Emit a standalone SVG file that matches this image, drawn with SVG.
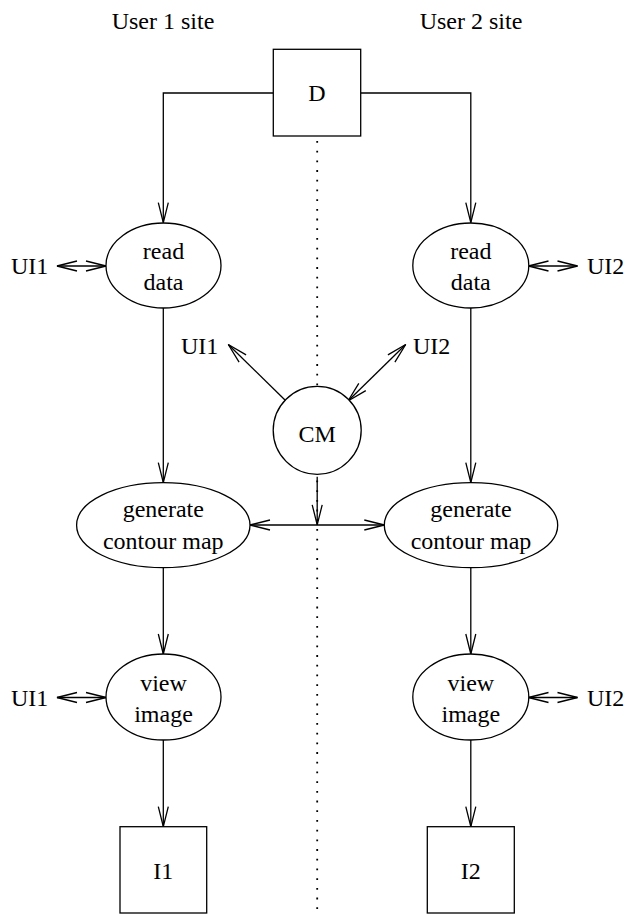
<svg xmlns="http://www.w3.org/2000/svg" width="626" height="914" viewBox="0 0 626 914">
<style>
text{font-family:"Liberation Serif","Times New Roman",serif;font-size:24px;fill:#000}
.c{text-anchor:middle}
.shape{fill:#fff;stroke:#000;stroke-width:1.3}
.ln{fill:none;stroke:#000;stroke-width:1.3}
.dot{fill:none;stroke:#000;stroke-width:1.8;stroke-dasharray:1.8 7.9}
</style>
<defs>
<marker id="ah" markerUnits="userSpaceOnUse" markerWidth="24" markerHeight="14" refX="21" refY="7" orient="auto-start-reverse" viewBox="0 0 24 14">
<path d="M1,2 L21,7 L1,12" fill="none" stroke="#000" stroke-width="1.3"/>
</marker>
</defs>
<rect width="626" height="914" fill="#fff"/>
<text class="c" x="163" y="29">User 1 site</text>
<text class="c" x="471" y="29">User 2 site</text>
<line class="dot" x1="317.2" y1="141" x2="317.2" y2="914"/>
<g id="connectors">
<polyline class="ln" points="273.3,93 163.3,93 163.3,222.7" marker-end="url(#ah)"/>
<polyline class="ln" points="360.7,93 470.8,93 470.8,222.7" marker-end="url(#ah)"/>
<line class="ln" x1="57" y1="266" x2="106" y2="266" marker-start="url(#ah)" marker-end="url(#ah)"/>
<line class="ln" x1="528.5" y1="266" x2="577.5" y2="266" marker-start="url(#ah)" marker-end="url(#ah)"/>
<line class="ln" x1="163.3" y1="308" x2="163.3" y2="482.7" marker-end="url(#ah)"/>
<line class="ln" x1="470.8" y1="308" x2="470.8" y2="482.7" marker-end="url(#ah)"/>
<line class="ln" x1="286" y1="401" x2="228.3" y2="344.5" marker-end="url(#ah)"/>
<line class="ln" x1="348" y1="401" x2="405.7" y2="344.5" marker-start="url(#ah)" marker-end="url(#ah)"/>
<line class="ln" x1="317.2" y1="476.7" x2="317.2" y2="524.8" marker-end="url(#ah)"/>
<line class="ln" x1="250" y1="525" x2="384.3" y2="525" marker-start="url(#ah)" marker-end="url(#ah)"/>
<line class="ln" x1="163.3" y1="567.7" x2="163.3" y2="654" marker-end="url(#ah)"/>
<line class="ln" x1="470.8" y1="567.7" x2="470.8" y2="654" marker-end="url(#ah)"/>
<line class="ln" x1="57" y1="697.5" x2="106" y2="697.5" marker-start="url(#ah)" marker-end="url(#ah)"/>
<line class="ln" x1="528.5" y1="697.5" x2="577.5" y2="697.5" marker-start="url(#ah)" marker-end="url(#ah)"/>
<line class="ln" x1="163.3" y1="740" x2="163.3" y2="826.7" marker-end="url(#ah)"/>
<line class="ln" x1="470.8" y1="740" x2="470.8" y2="826.7" marker-end="url(#ah)"/>
</g>
<g id="D"><rect class="shape" x="273.3" y="49.3" width="87.4" height="86.7"/><text class="c" x="317" y="101">D</text></g>
<g id="read1"><ellipse class="shape" cx="163.5" cy="265.5" rx="57.5" ry="42.5"/><text class="c" x="163.5" y="258.5">read</text><text class="c" x="163.5" y="289.5">data</text></g>
<g id="read2"><ellipse class="shape" cx="470.8" cy="265.5" rx="58" ry="42.5"/><text class="c" x="470.8" y="258.5">read</text><text class="c" x="470.8" y="289.5">data</text></g>
<g id="ui1a"><text x="11" y="273.5">UI1</text></g>
<g id="ui2a"><text x="587" y="273.5">UI2</text></g>
<g id="ui1c"><text x="181" y="353.5">UI1</text></g>
<g id="ui2c"><text x="413" y="353.5">UI2</text></g>
<g id="CM"><circle class="shape" cx="317.2" cy="430.3" r="44"/><text class="c" x="317.2" y="441.5">CM</text></g>
<g id="gen1"><ellipse class="shape" cx="163.3" cy="525.2" rx="86.7" ry="42.5"/><text class="c" x="163.3" y="517">generate</text><text class="c" x="163.3" y="548.5">contour map</text></g>
<g id="gen2"><ellipse class="shape" cx="471" cy="525.2" rx="86.7" ry="42.5"/><text class="c" x="471" y="517">generate</text><text class="c" x="471" y="548.5">contour map</text></g>
<g id="view1"><ellipse class="shape" cx="163.5" cy="697" rx="57.5" ry="43"/><text class="c" x="163.5" y="690.5">view</text><text class="c" x="163.5" y="721.5">image</text></g>
<g id="view2"><ellipse class="shape" cx="470.8" cy="697" rx="58" ry="43"/><text class="c" x="470.8" y="690.5">view</text><text class="c" x="470.8" y="721.5">image</text></g>
<g id="ui1b"><text x="11" y="705.5">UI1</text></g>
<g id="ui2b"><text x="587" y="705.5">UI2</text></g>
<g id="I1"><rect class="shape" x="120" y="826.7" width="86.7" height="86.3"/><text class="c" x="163.3" y="879.3">I1</text></g>
<g id="I2"><rect class="shape" x="427.3" y="826.7" width="87" height="86.3"/><text class="c" x="470.8" y="879.3">I2</text></g>
</svg>
